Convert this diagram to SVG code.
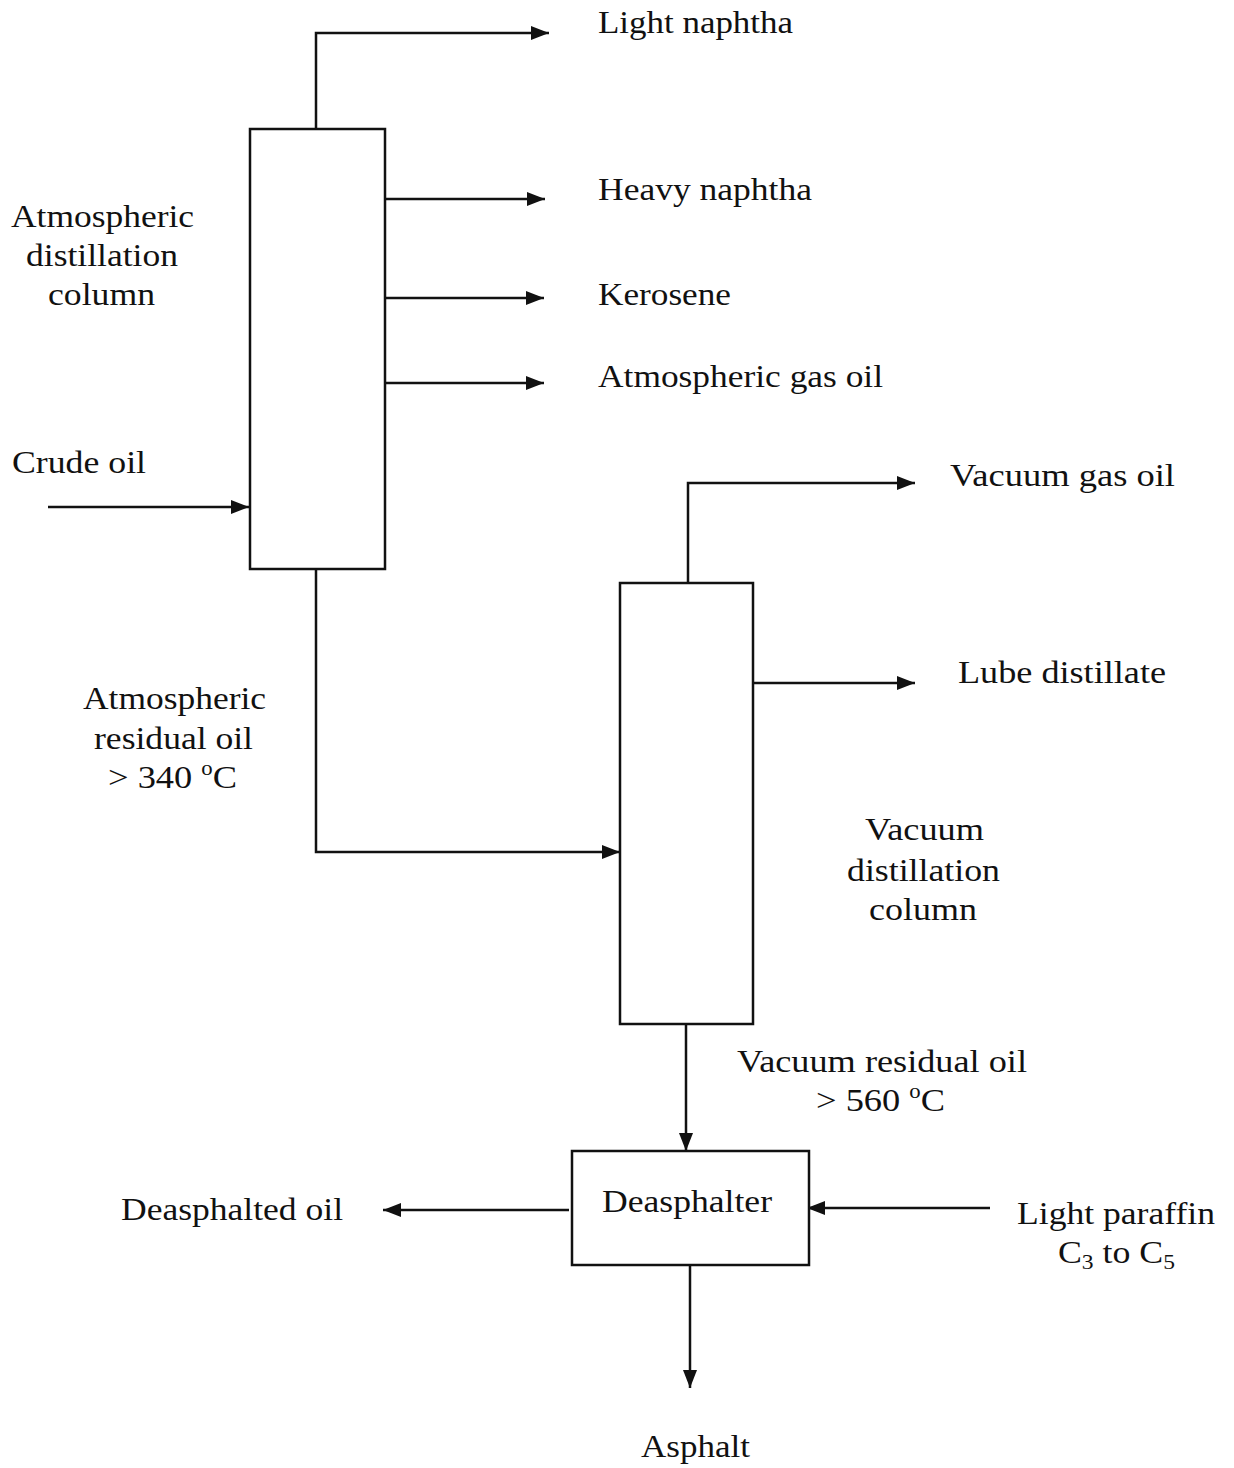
<svg xmlns="http://www.w3.org/2000/svg" width="1234" height="1468" viewBox="0 0 1234 1468">
<style>
text{font-family:"Liberation Serif","Times New Roman",serif;font-size:32px;fill:#111}
.ln{fill:none;stroke:#111;stroke-width:2.5}
.box{fill:#fff;stroke:#111;stroke-width:2.5}
</style>
<defs>
<marker id="ah" markerUnits="userSpaceOnUse" markerWidth="19" markerHeight="14" refX="18" refY="7" orient="auto">
<path d="M0,0 L18,7 L0,14 z" fill="#111"/>
</marker>
</defs>
<rect width="1234" height="1468" fill="#fff"/>
<g id="connectors">
<path class="ln" d="M316,129 V33 H549" marker-end="url(#ah)"/>
<path class="ln" d="M386,199 H545" marker-end="url(#ah)"/>
<path class="ln" d="M385,298 H544" marker-end="url(#ah)"/>
<path class="ln" d="M384,383 H544" marker-end="url(#ah)"/>
<path class="ln" d="M48,507 H249" marker-end="url(#ah)"/>
<path class="ln" d="M316,569 V852 H620" marker-end="url(#ah)"/>
<path class="ln" d="M688,583 V483 H915" marker-end="url(#ah)"/>
<path class="ln" d="M753,683 H915" marker-end="url(#ah)"/>
<path class="ln" d="M686,1024 V1151" marker-end="url(#ah)"/>
<path class="ln" d="M569,1210 H383" marker-end="url(#ah)"/>
<path class="ln" d="M990,1208 H807" marker-end="url(#ah)"/>
<path class="ln" d="M690,1265 V1388" marker-end="url(#ah)"/>
</g>
<g id="atm-column">
<rect class="box" x="250" y="129" width="135" height="440"/>
<text x="11" y="227" textLength="183" lengthAdjust="spacingAndGlyphs">Atmospheric</text>
<text x="26" y="266" textLength="152" lengthAdjust="spacingAndGlyphs">distillation</text>
<text x="48" y="305" textLength="107" lengthAdjust="spacingAndGlyphs">column</text>
</g>
<g id="vac-column">
<rect class="box" x="620" y="583" width="133" height="441"/>
<text x="865" y="840" textLength="119" lengthAdjust="spacingAndGlyphs">Vacuum</text>
<text x="847" y="881" textLength="153" lengthAdjust="spacingAndGlyphs">distillation</text>
<text x="869" y="920" textLength="108" lengthAdjust="spacingAndGlyphs">column</text>
</g>
<g id="deasphalter">
<rect class="box" x="572" y="1151" width="237" height="114"/>
<text x="602" y="1212" textLength="170" lengthAdjust="spacingAndGlyphs">Deasphalter</text>
</g>
<g id="light-naphtha"><text x="598" y="33" textLength="195" lengthAdjust="spacingAndGlyphs">Light naphtha</text></g>
<g id="heavy-naphtha"><text x="598" y="200" textLength="214" lengthAdjust="spacingAndGlyphs">Heavy naphtha</text></g>
<g id="kerosene"><text x="598" y="305" textLength="133" lengthAdjust="spacingAndGlyphs">Kerosene</text></g>
<g id="atm-gas-oil"><text x="598" y="387" textLength="285" lengthAdjust="spacingAndGlyphs">Atmospheric gas oil</text></g>
<g id="crude-oil"><text x="12" y="473" textLength="134" lengthAdjust="spacingAndGlyphs">Crude oil</text></g>
<g id="vacuum-gas-oil"><text x="950" y="486" textLength="225" lengthAdjust="spacingAndGlyphs">Vacuum gas oil</text></g>
<g id="lube-distillate"><text x="958" y="683" textLength="208" lengthAdjust="spacingAndGlyphs">Lube distillate</text></g>
<g id="atm-residual">
<text x="83" y="709" textLength="183" lengthAdjust="spacingAndGlyphs">Atmospheric</text>
<text x="94" y="749" textLength="159" lengthAdjust="spacingAndGlyphs">residual oil</text>
<text x="108" y="788" textLength="129" lengthAdjust="spacingAndGlyphs">&gt; 340 <tspan font-size="20" dy="-13">o</tspan><tspan dy="13">C</tspan></text>
</g>
<g id="vac-residual">
<text x="737" y="1072" textLength="290" lengthAdjust="spacingAndGlyphs">Vacuum residual oil</text>
<text x="816" y="1111" textLength="129" lengthAdjust="spacingAndGlyphs">&gt; 560 <tspan font-size="20" dy="-13">o</tspan><tspan dy="13">C</tspan></text>
</g>
<g id="deasphalted-oil"><text x="121" y="1220" textLength="222" lengthAdjust="spacingAndGlyphs">Deasphalted oil</text></g>
<g id="light-paraffin">
<text x="1017" y="1224" textLength="198" lengthAdjust="spacingAndGlyphs">Light paraffin</text>
<text x="1058" y="1263" textLength="117" lengthAdjust="spacingAndGlyphs">C<tspan font-size="21" dy="6">3</tspan><tspan dy="-6"> to C</tspan><tspan font-size="21" dy="6">5</tspan></text>
</g>
<g id="asphalt"><text x="641" y="1457" textLength="109" lengthAdjust="spacingAndGlyphs">Asphalt</text></g>
</svg>
